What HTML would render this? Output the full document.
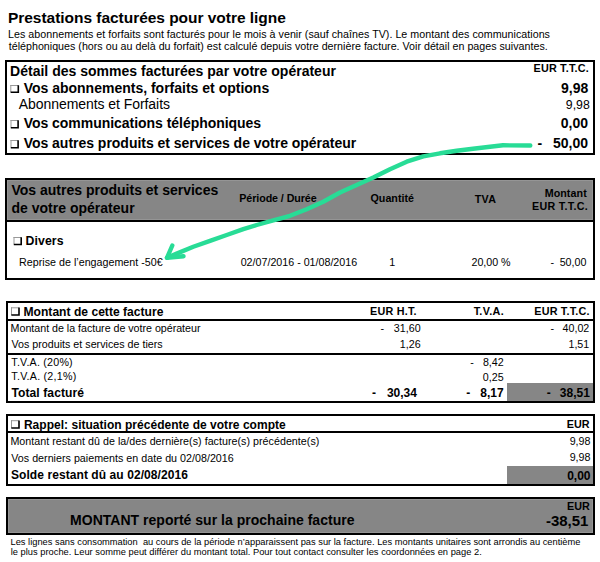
<!DOCTYPE html><html><head><meta charset="utf-8"><style>
html,body{margin:0;padding:0;background:#fff;}
body{width:600px;height:562px;position:relative;overflow:hidden;font-family:"Liberation Sans", sans-serif;color:#000;}
.t{position:absolute;white-space:pre;line-height:1;}
.b{font-weight:bold;}
.bx{position:absolute;box-sizing:border-box;border:2px solid #000;}
.hl{position:absolute;background:#000;}
.g{position:absolute;background:#868686;}
</style></head><body>
<div class="bx" style="left:5px;top:60px;width:590px;height:95px;"></div>
<div class="bx" style="left:5px;top:178px;width:590px;height:102px;"></div>
<div class="bx" style="left:6px;top:301px;width:589px;height:102px;"></div>
<div class="bx" style="left:6px;top:414px;width:589px;height:72px;"></div>
<div class="bx" style="left:6px;top:497px;width:589px;height:38px;background:#868686;box-shadow:inset 0 0 0 1px #959595;"></div>
<div class="g" style="left:7px;top:180px;width:586px;height:40px;box-shadow:inset 0 0 0 1px #959595;"></div>
<div class="g" style="left:507px;top:383px;width:86px;height:18px;"></div>
<div class="g" style="left:507px;top:466px;width:86px;height:18px;"></div>
<div class="hl" style="left:5px;top:220px;width:590px;height:2px"></div>
<div class="hl" style="left:6px;top:319px;width:589px;height:2px"></div>
<div class="hl" style="left:6px;top:353px;width:589px;height:2px"></div>
<div class="hl" style="left:6px;top:431px;width:589px;height:2px"></div>
<div class="t b" style="left:7.96px;top:10.48px;font-size:15.5px;letter-spacing:-0.033px;">Prestations facturées pour votre ligne</div>
<div class="t" style="left:8.02px;top:29.24px;font-size:10.7px;letter-spacing:0.025px;">Les abonnements et forfaits sont facturés pour le mois à venir (sauf chaînes TV). Le montant des communications</div>
<div class="t" style="left:8.74px;top:41.44px;font-size:10.7px;letter-spacing:0.006px;">téléphoniques (hors ou au delà du forfait) est calculé depuis votre dernière facture. Voir détail en pages suivantes.</div>
<div class="t b" style="left:10.06px;top:63.85px;font-size:14px;letter-spacing:0.014px;">Détail des sommes facturées par votre opérateur</div>
<div class="t b" style="left:533.48px;top:63.36px;font-size:10.8px;letter-spacing:0.208px;">EUR T.T.C.</div>
<div class="t b" style="left:23.65px;top:81.25px;font-size:14px;">Vos abonnements, forfaits et options</div>
<div class="t b" style="left:560.98px;top:81.15px;font-size:14px;">9,98</div>
<div class="t" style="left:18.72px;top:97.35px;font-size:14px;letter-spacing:-0.057px;">Abonnements et Forfaits</div>
<div class="t" style="left:565.80px;top:99.29px;font-size:12.3px;">9,98</div>
<div class="t b" style="left:23.65px;top:116.45px;font-size:14px;letter-spacing:-0.034px;">Vos communications téléphoniques</div>
<div class="t b" style="left:560.82px;top:116.45px;font-size:14px;">0,00</div>
<div class="t b" style="left:23.65px;top:136.15px;font-size:14px;letter-spacing:-0.020px;">Vos autres produits et services de votre opérateur</div>
<div class="t b" style="left:537.45px;top:136.15px;font-size:14px;">-</div>
<div class="t b" style="left:553.03px;top:136.15px;font-size:14px;">50,00</div>
<div class="t b" style="left:11.50px;top:182.55px;font-size:14px;">Vos autres produits et services</div>
<div class="t b" style="left:11.43px;top:200.75px;font-size:14px;letter-spacing:0.015px;">de votre opérateur</div>
<div class="t b" style="left:239.28px;top:193.44px;font-size:10.7px;letter-spacing:-0.073px;">Période / Durée</div>
<div class="t b" style="left:370.56px;top:193.34px;font-size:10.7px;letter-spacing:0.006px;">Quantité</div>
<div class="t b" style="left:474.68px;top:193.69px;font-size:10.7px;letter-spacing:0.304px;">TVA</div>
<div class="t b" style="left:544.68px;top:187.84px;font-size:10.7px;letter-spacing:0.081px;">Montant</div>
<div class="t b" style="left:532.08px;top:200.84px;font-size:10.7px;letter-spacing:0.310px;">EUR T.T.C.</div>
<div class="t b" style="left:25.58px;top:234.99px;font-size:12.3px;letter-spacing:0.064px;">Divers</div>
<div class="t" style="left:19.12px;top:256.94px;font-size:10.7px;letter-spacing:0.013px;">Reprise de l’engagement -50€</div>
<div class="t" style="left:240.68px;top:257.44px;font-size:10.7px;">02/07/2016 - 01/08/2016</div>
<div class="t" style="left:389.37px;top:257.44px;font-size:10.7px;">1</div>
<div class="t" style="left:471.56px;top:257.44px;font-size:10.7px;letter-spacing:-0.033px;">20,00 %</div>
<div class="t" style="left:550.52px;top:257.44px;font-size:10.7px;">-</div>
<div class="t" style="left:559.67px;top:257.44px;font-size:10.7px;">50,00</div>
<div class="t b" style="left:23.49px;top:305.56px;font-size:12.1px;letter-spacing:0.006px;">Montant de cette facture</div>
<div class="t b" style="left:370.08px;top:305.76px;font-size:10.8px;letter-spacing:0.209px;">EUR H.T.</div>
<div class="t b" style="left:473.63px;top:305.86px;font-size:10.8px;letter-spacing:0.342px;">T.V.A.</div>
<div class="t b" style="left:534.28px;top:305.86px;font-size:10.8px;letter-spacing:0.203px;">EUR T.T.C.</div>
<div class="t" style="left:10.62px;top:322.74px;font-size:10.7px;letter-spacing:-0.022px;">Montant de la facture de votre opérateur</div>
<div class="t" style="left:380.52px;top:322.94px;font-size:10.7px;">-</div>
<div class="t" style="left:393.87px;top:322.94px;font-size:10.7px;">31,60</div>
<div class="t" style="left:550.52px;top:322.94px;font-size:10.7px;">-</div>
<div class="t" style="left:562.54px;top:322.94px;font-size:10.7px;">40,02</div>
<div class="t" style="left:11.45px;top:339.34px;font-size:10.7px;letter-spacing:0.011px;">Vos produits et services de tiers</div>
<div class="t" style="left:399.86px;top:339.24px;font-size:10.7px;">1,26</div>
<div class="t" style="left:568.46px;top:339.14px;font-size:10.7px;">1,51</div>
<div class="t" style="left:11.36px;top:356.94px;font-size:10.7px;letter-spacing:0.208px;">T.V.A. (20%)</div>
<div class="t" style="left:470.22px;top:356.94px;font-size:10.7px;">-</div>
<div class="t" style="left:482.93px;top:356.94px;font-size:10.7px;">8,42</div>
<div class="t" style="left:11.36px;top:371.44px;font-size:10.7px;letter-spacing:0.243px;">T.V.A. (2,1%)</div>
<div class="t" style="left:482.84px;top:371.64px;font-size:10.7px;">0,25</div>
<div class="t b" style="left:11.46px;top:387.36px;font-size:12.1px;letter-spacing:0.072px;">Total facturé</div>
<div class="t b" style="left:372.03px;top:386.84px;font-size:12px;">-</div>
<div class="t b" style="left:386.93px;top:386.84px;font-size:12px;">30,34</div>
<div class="t b" style="left:466.23px;top:386.84px;font-size:12px;">-</div>
<div class="t b" style="left:480.37px;top:386.84px;font-size:12px;">8,17</div>
<div class="t b" style="left:546.73px;top:386.84px;font-size:12px;">-</div>
<div class="t b" style="left:559.80px;top:386.84px;font-size:12px;">38,51</div>
<div class="t b" style="left:23.90px;top:418.54px;font-size:12px;letter-spacing:0.025px;">Rappel: situation précédente de votre compte</div>
<div class="t b" style="left:566.82px;top:418.66px;font-size:10.8px;">EUR</div>
<div class="t" style="left:10.42px;top:435.94px;font-size:10.7px;letter-spacing:0.028px;">Montant restant dû de la/des dernière(s) facture(s) précédente(s)</div>
<div class="t" style="left:569.65px;top:435.74px;font-size:10.7px;">9,98</div>
<div class="t" style="left:11.25px;top:452.64px;font-size:10.7px;letter-spacing:0.020px;">Vos derniers paiements en date du 02/08/2016</div>
<div class="t" style="left:569.65px;top:452.24px;font-size:10.7px;">9,98</div>
<div class="t b" style="left:10.95px;top:469.14px;font-size:12px;letter-spacing:0.077px;">Solde restant dû au 02/08/2016</div>
<div class="t b" style="left:567.13px;top:470.44px;font-size:12px;">0,00</div>
<div class="t b" style="left:70.06px;top:513.15px;font-size:14px;letter-spacing:0.019px;">MONTANT reporté sur la prochaine facture</div>
<div class="t b" style="left:567.02px;top:501.26px;font-size:10.8px;">EUR</div>
<div class="t b" style="left:546.01px;top:512.90px;font-size:15px;letter-spacing:-0.029px;">-38,51</div>
<div class="t" style="left:10.54px;top:538.43px;font-size:9.3px;word-spacing:0.018px;">Les lignes sans consommation  au cours de la période n’apparaissent pas sur la facture. Les montants unitaires sont arrondis au centième</div>
<div class="t" style="left:10.67px;top:548.43px;font-size:9.3px;word-spacing:0.116px;">le plus proche. Leur somme peut différer du montant total. Pour tout contact consulter les coordonnées en page 2.</div>
<svg style="position:absolute;left:0;top:0" width="600" height="562" viewBox="0 0 600 562"><g fill="none"><path d="M10.3 85.5H18.1M10.8 85V92.1" stroke="#999" stroke-width="1"/><path d="M18.3 85.3V92.3H10.6" stroke="#000" stroke-width="1.6"/><path d="M10.5 120.5H17.9M11 120V127.5" stroke="#999" stroke-width="1"/><path d="M18.1 120.3V127.7H10.8" stroke="#000" stroke-width="1.6"/><path d="M10.5 140.5H17.9M11 140V147.5" stroke="#999" stroke-width="1"/><path d="M18.1 140.3V147.7H10.8" stroke="#000" stroke-width="1.6"/><path d="M13.5 237.5H21M14 237V244.3" stroke="#999" stroke-width="1"/><path d="M21.2 237.3V244.5H13.8" stroke="#000" stroke-width="1.6"/><path d="M11 307.8H18.8M11.5 307.3V314.8" stroke="#999" stroke-width="1"/><path d="M19 307.6V315H11.3" stroke="#000" stroke-width="1.6"/><path d="M11 420.7H18.8M11.5 420.2V427.8" stroke="#999" stroke-width="1"/><path d="M19 420.5V428H11.3" stroke="#000" stroke-width="1.6"/></g><g fill="none" stroke="#28dc96" stroke-width="4.4" stroke-linecap="round" stroke-linejoin="round"><polyline points="530.3,145.5 503,145.3 490,146.7 473,148.7 456.7,150.8 440,153.3 423.3,156.3 406.7,161.7 390,169.2 373.3,177.5 356.7,185 340,192.5 323.3,201.7 306.7,209.2 290,215.8 273.3,220.3 256.7,225 243.3,229.2 226.7,235 210,240.8 193.3,246.7 176.7,253.6 167,257.8"/><polyline points="172.3,245.5 167,257.8 183.5,256.2"/></g></svg>
</body></html>
